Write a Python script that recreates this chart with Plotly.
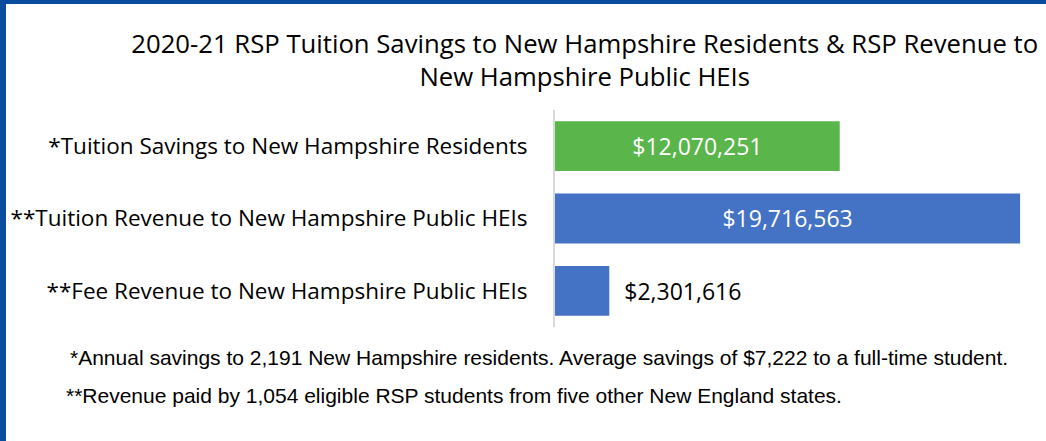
import plotly.graph_objects as go

categories = [
    "*Tuition Savings to New Hampshire Residents",
    "**Tuition Revenue to New Hampshire Public HEIs",
    "**Fee Revenue to New Hampshire Public HEIs",
]
values = [12070251, 19716563, 2301616]
bar_colors = ["#5AB54B", "#4472C4", "#4472C4"]
text_positions = ["inside", "inside", "outside"]

title_text = ("2020-21 RSP Tuition Savings to New Hampshire Residents &amp; RSP Revenue to"
              "<br>New Hampshire Public HEIs")
footnotes = [
    "*Annual savings to 2,191 New Hampshire residents. Average savings of $7,222 to a full-time student.",
    "**Revenue paid by 1,054 eligible RSP students from five other New England states.",
]

W, H = 1046, 441
ml, mr, mt, mb = 555, 6, 110, 114
pw = W - ml - mr
ph = H - mt - mb


def pxx(px):
    return (px - ml) / pw


def pxy(py):
    return (H - mb - py) / ph


labels = []
for v, pos in zip(values, text_positions):
    s = "${:,}".format(v)
    if pos == "outside":
        s = "\u00a0\u00a0" + s
    labels.append(s)

font_main = "'Open Sans', Lato, sans-serif"
font_note = "'Liberation Sans Narrow', sans-serif"

fig = go.Figure(
    go.Bar(
        y=categories,
        x=values,
        orientation="h",
        marker=dict(color=bar_colors, line=dict(width=0)),
        width=0.69,
        text=labels,
        textposition=text_positions,
        insidetextanchor="middle",
        insidetextfont=dict(color="white", size=23, family=font_main),
        outsidetextfont=dict(color="black", size=23, family=font_main),
        constraintext="none",
        cliponaxis=False,
        hoverinfo="skip",
    )
)

fig.update_layout(
    width=W,
    height=H,
    margin=dict(l=ml, r=mr, t=mt, b=mb, autoexpand=False),
    paper_bgcolor="white",
    plot_bgcolor="white",
    showlegend=False,
    font=dict(family=font_main, color="black"),
    title=dict(
        text=title_text,
        x=0.559,
        xanchor="center",
        y=1 - 53 / H,
        yanchor="top",
        automargin=False,
        font=dict(size=25.7, family=font_main, color="black"),
    ),
    xaxis=dict(
        range=[0, 20.56e6],
        showgrid=False,
        zeroline=False,
        showticklabels=False,
        showline=False,
        automargin=False,
        fixedrange=True,
    ),
    yaxis=dict(
        autorange="reversed",
        showline=True,
        linecolor="#D9D9D9",
        linewidth=2,
        ticks="",
        ticklabelstandoff=21,
        tickfont=dict(size=22.5, family=font_main, color="black"),
        showgrid=False,
        automargin=False,
        fixedrange=True,
    ),
    shapes=[
        dict(type="rect", xref="paper", yref="paper",
             x0=pxx(0), x1=pxx(6), y0=pxy(H), y1=pxy(0),
             fillcolor="#0A4D9F", line=dict(width=0), layer="above"),
        dict(type="rect", xref="paper", yref="paper",
             x0=pxx(0), x1=pxx(W), y0=pxy(4), y1=pxy(0),
             fillcolor="#0A4D9F", line=dict(width=0), layer="above"),
    ],
    annotations=[
        dict(text=footnotes[0], xref="paper", yref="paper",
             x=pxx(68), y=pxy(357), xanchor="left", yanchor="middle",
             showarrow=False,
             font=dict(size=21, family=font_note, color="black")),
        dict(text=footnotes[1], xref="paper", yref="paper",
             x=pxx(64), y=pxy(395), xanchor="left", yanchor="middle",
             showarrow=False,
             font=dict(size=21, family=font_note, color="black")),
    ],
)

fig.write_html("out.html")
